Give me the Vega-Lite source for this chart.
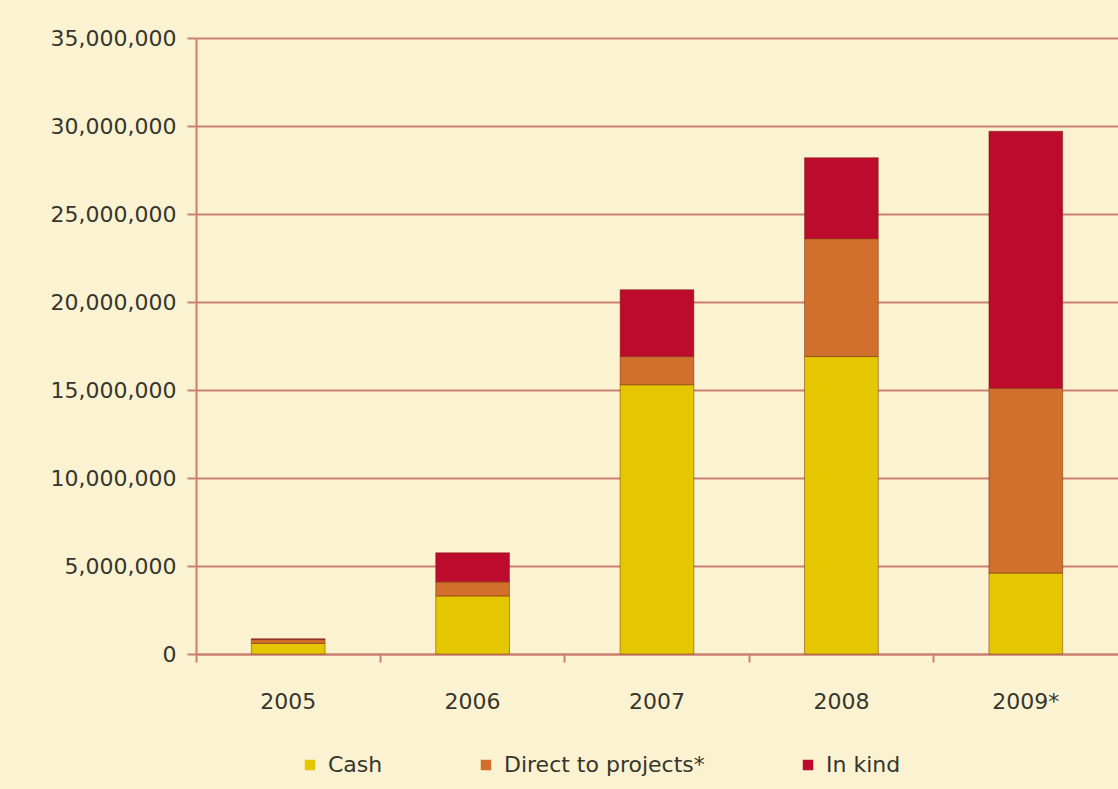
{
  "$schema": "https://vega.github.io/schema/vega-lite/v6.json",
  "width": 922,
  "height": 616,
  "autosize": "none",
  "padding": {"left": 196, "top": 38, "right": 0, "bottom": 135},
  "background": "#fbf2d2",
  "config": {"view": {"stroke": null}, "font": "DejaVu Sans"},
  "data": {
    "values": [
      {"year": "2005", "type": "Cash", "ord": 1, "value": 600000},
      {"year": "2005", "type": "Direct to projects*", "ord": 2, "value": 220000},
      {"year": "2005", "type": "In kind", "ord": 3, "value": 50000},
      {"year": "2006", "type": "Cash", "ord": 1, "value": 3300000},
      {"year": "2006", "type": "Direct to projects*", "ord": 2, "value": 800000},
      {"year": "2006", "type": "In kind", "ord": 3, "value": 1650000},
      {"year": "2007", "type": "Cash", "ord": 1, "value": 15300000},
      {"year": "2007", "type": "Direct to projects*", "ord": 2, "value": 1600000},
      {"year": "2007", "type": "In kind", "ord": 3, "value": 3800000},
      {"year": "2008", "type": "Cash", "ord": 1, "value": 16900000},
      {"year": "2008", "type": "Direct to projects*", "ord": 2, "value": 6700000},
      {"year": "2008", "type": "In kind", "ord": 3, "value": 4600000},
      {"year": "2009*", "type": "Cash", "ord": 1, "value": 4600000},
      {"year": "2009*", "type": "Direct to projects*", "ord": 2, "value": 10500000},
      {"year": "2009*", "type": "In kind", "ord": 3, "value": 14600000}
    ]
  },
  "encoding": {
    "y": {
      "field": "value", "type": "quantitative", "stack": "zero",
      "scale": {"domain": [0, 35000000], "nice": false},
      "axis": {
        "title": null, "format": ",d", "values": [0, 5000000, 10000000, 15000000, 20000000, 25000000, 30000000, 35000000],
        "grid": true, "gridColor": "#c98070", "gridWidth": 2,
        "domainColor": "#c98070", "domainWidth": 2,
        "tickColor": "#c98070", "tickWidth": 2, "tickSize": 9,
        "labelFontSize": 22, "labelColor": "#36362c", "labelPadding": 11
      }
    }
  },
  "layer": [
    {
      "mark": {"type": "bar", "stroke": "#6a2000", "strokeOpacity": 0.45, "strokeWidth": 1},
      "encoding": {
        "x": {
          "field": "year", "type": "nominal", "sort": null,
          "scale": {"paddingInner": 0.6, "paddingOuter": 0.3},
          "axis": {
            "orient": "bottom", "title": null, "labelAngle": 0, "ticks": false,
            "domain": true, "domainColor": "#c98070", "domainWidth": 2,
            "labelFontSize": 22, "labelColor": "#36362c", "labelPadding": 37
          }
        },
        "color": {
          "field": "type", "type": "nominal",
          "scale": {"domain": ["Cash", "Direct to projects*", "In kind"], "range": ["#e5c700", "#d0702c", "#bd0b2d"]},
          "legend": {
            "title": null, "orient": "none", "direction": "horizontal",
            "legendX": 103, "legendY": 716,
            "symbolType": "square", "symbolSize": 110, "symbolStrokeWidth": 0,
            "labelFontSize": 22, "labelColor": "#36362c", "labelOffset": 7, "labelLimit": 500,
            "columnPadding": 92
          }
        },
        "order": {"field": "ord"}
      }
    },
    {
      "mark": {"type": "bar", "opacity": 0},
      "encoding": {
        "x": {
          "field": "year", "type": "nominal", "sort": null,
          "scale": {"paddingInner": 0, "paddingOuter": 0},
          "axis": {
            "orient": "bottom", "title": null, "labels": false, "domain": false,
            "ticks": true, "bandPosition": 0, "tickColor": "#c98070", "tickWidth": 2, "tickSize": 8
          }
        }
      }
    }
  ],
  "resolve": {"scale": {"x": "independent"}, "axis": {"x": "independent"}}
}
